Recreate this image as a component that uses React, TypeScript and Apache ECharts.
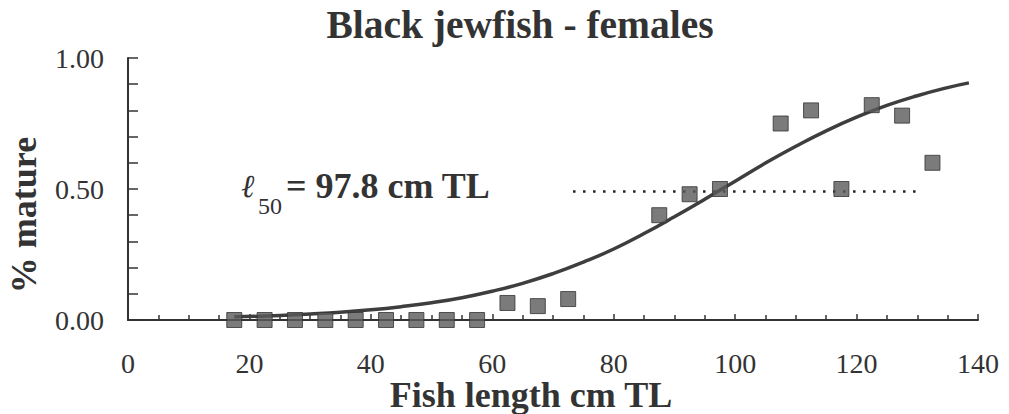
import React, { useEffect, useRef } from "react";
import * as echarts from "echarts";

const lengthClasses = [17.5, 22.5, 27.5, 32.5, 37.5, 42.5, 47.5, 52.5, 57.5, 62.5, 67.5, 72.5, 87.5, 92.5, 97.5, 107.5, 112.5, 117.5, 122.5, 127.5, 132.5];
const propMature = [0, 0, 0, 0, 0, 0, 0, 0, 0, 0.065, 0.053, 0.08, 0.40, 0.48, 0.50, 0.75, 0.80, 0.50, 0.82, 0.78, 0.60];

const fitLength = [17.5, 25, 30, 35, 40, 45, 50, 55, 60, 65, 70, 75, 80, 85, 90, 95, 100, 105, 110, 115, 120, 125, 130, 135, 138.5];
const fitMature = [0.012, 0.017, 0.023, 0.030, 0.039, 0.051, 0.066, 0.085, 0.110, 0.140, 0.177, 0.221, 0.271, 0.330, 0.394, 0.461, 0.530, 0.599, 0.663, 0.722, 0.774, 0.819, 0.856, 0.887, 0.905];

const l50Line = [[73.3, 0.49], [130, 0.49]];

const xTicks = { min: 0, max: 140, interval: 20 };
const yTicks = { min: 0, max: 1, interval: 0.5 };

const SERIF = "Liberation Serif";
const INK = "#333333";

export default function App() {
  const ref = useRef<HTMLDivElement>(null);
  useEffect(() => {
    document.body.style.margin = "0";
    if (!ref.current) return;
    const chart = echarts.init(ref.current, undefined, { renderer: "svg" });
    const txt = (text: string, x: number, y: number, size: number, weight: string, fontStyle: string, align: string, va: string, extra: any = {}, lineHeight?: number) => ({
      type: "text",
      x,
      y,
      ...extra,
      style: {
        text,
        fontFamily: SERIF,
        fontSize: size,
        fontWeight: weight,
        fontStyle,
        fill: INK,
        textAlign: align,
        textVerticalAlign: va,
        ...(lineHeight ? { lineHeight } : {}),
      },
    });
    chart.setOption({
      animation: false,
      backgroundColor: "#ffffff",
      textStyle: { fontFamily: SERIF },
      grid: { left: 128, right: 31, top: 58, bottom: 94 },
      xAxis: {
        type: "value",
        min: xTicks.min,
        max: xTicks.max,
        interval: xTicks.interval,
        axisLine: { show: true, lineStyle: { color: INK, width: 2 } },
        axisTick: { show: true, inside: true, length: 6, lineStyle: { color: INK, width: 1.5 } },
        minorTick: { show: true, splitNumber: 4, length: 5, lineStyle: { color: INK, width: 1.5 } },
        splitLine: { show: false },
        axisLabel: { fontSize: 28, fontFamily: SERIF, color: INK, margin: 32, lineHeight: 22 },
      },
      yAxis: {
        type: "value",
        min: yTicks.min,
        max: yTicks.max,
        interval: yTicks.interval,
        axisLine: { show: true, lineStyle: { color: INK, width: 2 } },
        axisTick: { show: true, inside: true, length: 10, lineStyle: { color: INK, width: 1.5 } },
        minorTick: { show: true, splitNumber: 5, length: 10, lineStyle: { color: INK, width: 1.5 } },
        splitLine: { show: false },
        axisLabel: {
          fontSize: 28,
          fontFamily: SERIF,
          color: INK,
          margin: 24,
          formatter: (v: number) => v.toFixed(2),
        },
      },
      graphic: [
        txt("Black jewfish - females", 520, 5, 39.5, "bold", "normal", "center", "top"),
        txt("Fish length cm TL", 531, 381, 36, "bold", "normal", "center", "top", {}, 28),
        txt("% mature", 6, 215, 36, "bold", "normal", "center", "top", { rotation: Math.PI / 2 }),
        txt("ℓ", 241, 202, 32, "normal", "italic", "left", "bottom"),
        txt("50", 258, 218, 24, "normal", "normal", "left", "bottom"),
        txt("= 97.8 cm TL", 286, 204, 36, "bold", "normal", "left", "bottom"),
      ],
      series: [
        {
          type: "line",
          data: l50Line,
          symbol: "none",
          lineStyle: { color: "#222222", width: 2.5, type: [2.5, 7.5] },
          z: 2,
        },
        {
          type: "line",
          data: fitLength.map((x, i) => [x, fitMature[i]]),
          smooth: true,
          symbol: "none",
          lineStyle: { color: "#3e3e3e", width: 3.5 },
          z: 3,
        },
        {
          type: "scatter",
          data: lengthClasses.map((x, i) => [x, propMature[i]]),
          symbol: "rect",
          symbolSize: 15,
          itemStyle: { color: "#5a5a5a", borderColor: "#333333", borderWidth: 1 },
          z: 4,
        },
      ],
    });
    return () => chart.dispose();
  }, []);
  return <div ref={ref} style={{ width: 1009, height: 414 }} />;
}
